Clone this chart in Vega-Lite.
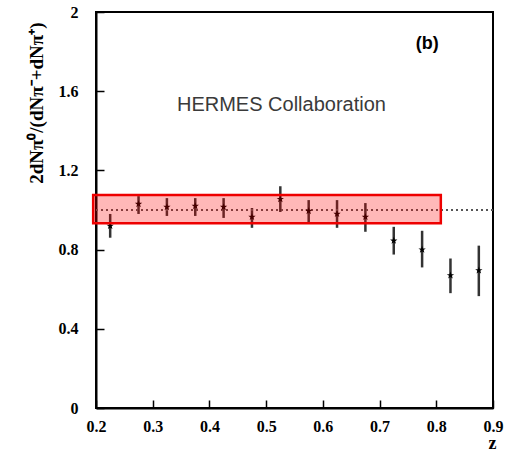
{
  "$schema": "https://vega.github.io/schema/vega-lite/v6.json",
  "autosize": "none",
  "width": 397,
  "height": 396,
  "padding": {"left": 96, "top": 12, "right": 15, "bottom": 46},
  "background": "white",
  "config": {
    "view": {"stroke": "black", "strokeWidth": 2},
    "axis": {"labelFont": "Liberation Serif", "titleFont": "Liberation Serif", "labelFontWeight": "bold", "titleFontWeight": "bold", "labelColor": "black", "titleColor": "black", "labelFontSize": 16, "grid": false, "domainColor": "black", "domainWidth": 2, "tickColor": "black", "tickWidth": 1.5}
  },
  "data": {"values": [
    {"z": 0.225, "r": 0.92, "lo": 0.86, "hi": 0.98},
    {"z": 0.275, "r": 1.03, "lo": 0.98, "hi": 1.07},
    {"z": 0.325, "r": 1.015, "lo": 0.97, "hi": 1.06},
    {"z": 0.375, "r": 1.02, "lo": 0.97, "hi": 1.06},
    {"z": 0.425, "r": 1.015, "lo": 0.96, "hi": 1.06},
    {"z": 0.475, "r": 0.965, "lo": 0.91, "hi": 1.01},
    {"z": 0.525, "r": 1.055, "lo": 0.99, "hi": 1.12},
    {"z": 0.575, "r": 0.995, "lo": 0.93, "hi": 1.05},
    {"z": 0.625, "r": 0.98, "lo": 0.91, "hi": 1.05},
    {"z": 0.675, "r": 0.965, "lo": 0.89, "hi": 1.035},
    {"z": 0.725, "r": 0.845, "lo": 0.775, "hi": 0.915},
    {"z": 0.775, "r": 0.80, "lo": 0.71, "hi": 0.895},
    {"z": 0.825, "r": 0.67, "lo": 0.58, "hi": 0.755},
    {"z": 0.875, "r": 0.695, "lo": 0.565, "hi": 0.82}
  ]},
  "layer": [
    {
      "mark": {"type": "rule", "color": "#333333", "strokeWidth": 2.5},
      "encoding": {
        "x": {"field": "z", "type": "quantitative", "scale": {"domain": [0.2, 0.9], "nice": false, "zero": false},
          "axis": {"title": "z", "titleFontSize": 18, "titleAnchor": "end", "titleAlign": "right", "titleBaseline": "bottom", "titleX": 400, "titleY": 44,
            "values": [0.2, 0.3, 0.4, 0.5, 0.6, 0.7, 0.8, 0.9],
            "format": ".1f",
            "tickSize": -8, "labelOverlap": false,
            "labelPadding": 18, "labelFlush": false}},
        "y": {"field": "lo", "type": "quantitative", "scale": {"domain": [0, 2], "nice": false},
          "axis": {"title": "2dNπ⁰/(dNπ⁻+dNπ⁺)", "titleFontSize": 19, "titlePadding": 12, "titleAnchor": "end", "titleY": 10,
            "values": [0, 0.2, 0.4, 0.6, 0.8, 1, 1.2, 1.4, 1.6, 1.8, 2],
            "labelExpr": "datum.value == 0 || datum.value == 1 || datum.value == 2 ? format(datum.value, 'd') : format(datum.value, '.1f')",
            "tickSize": -8, "labelOverlap": false,
            "labelPadding": 26, "labelFlush": false}},
        "y2": {"field": "hi"}
      }
    },
    {
      "mark": {"type": "rule", "color": "#555555", "strokeDash": [2, 3], "strokeWidth": 1.5},
      "encoding": {"y": {"datum": 1, "type": "quantitative"}}
    },
    {
      "mark": {"type": "point", "shape": "M0,-1 L0.24,-0.31 L0.95,-0.31 L0.38,0.12 L0.59,0.81 L0,0.4 L-0.59,0.81 L-0.38,0.12 L-0.95,-0.31 L-0.24,-0.31 Z", "filled": true, "color": "black", "opacity": 1, "size": 60},
      "encoding": {
        "x": {"field": "z", "type": "quantitative"},
        "y": {"field": "r", "type": "quantitative"}
      }
    },
    {
      "data": {"values": [{"x1": 0.195, "x2": 0.808, "y1": 0.933, "y2": 1.076}]},
      "mark": {"type": "rect", "fill": "#ff0000", "fillOpacity": 0.28, "stroke": "#ee0000", "strokeWidth": 2.5, "clip": false},
      "encoding": {
        "x": {"field": "x1", "type": "quantitative"},
        "x2": {"field": "x2"},
        "y": {"field": "y1", "type": "quantitative"},
        "y2": {"field": "y2"}
      }
    },
    {
      "data": {"values": [{"x": 0.527, "y": 1.53, "label": "HERMES Collaboration"}]},
      "mark": {"type": "text", "font": "Liberation Sans", "fontSize": 20, "color": "#3a3a3a"},
      "encoding": {
        "x": {"field": "x", "type": "quantitative"},
        "y": {"field": "y", "type": "quantitative"},
        "text": {"field": "label"}
      }
    },
    {
      "data": {"values": [{"x": 0.784, "y": 1.84, "label": "(b)"}]},
      "mark": {"type": "text", "font": "Liberation Sans", "fontSize": 18, "fontWeight": "bold", "color": "black"},
      "encoding": {
        "x": {"field": "x", "type": "quantitative"},
        "y": {"field": "y", "type": "quantitative"},
        "text": {"field": "label"}
      }
    }
  ]
}
